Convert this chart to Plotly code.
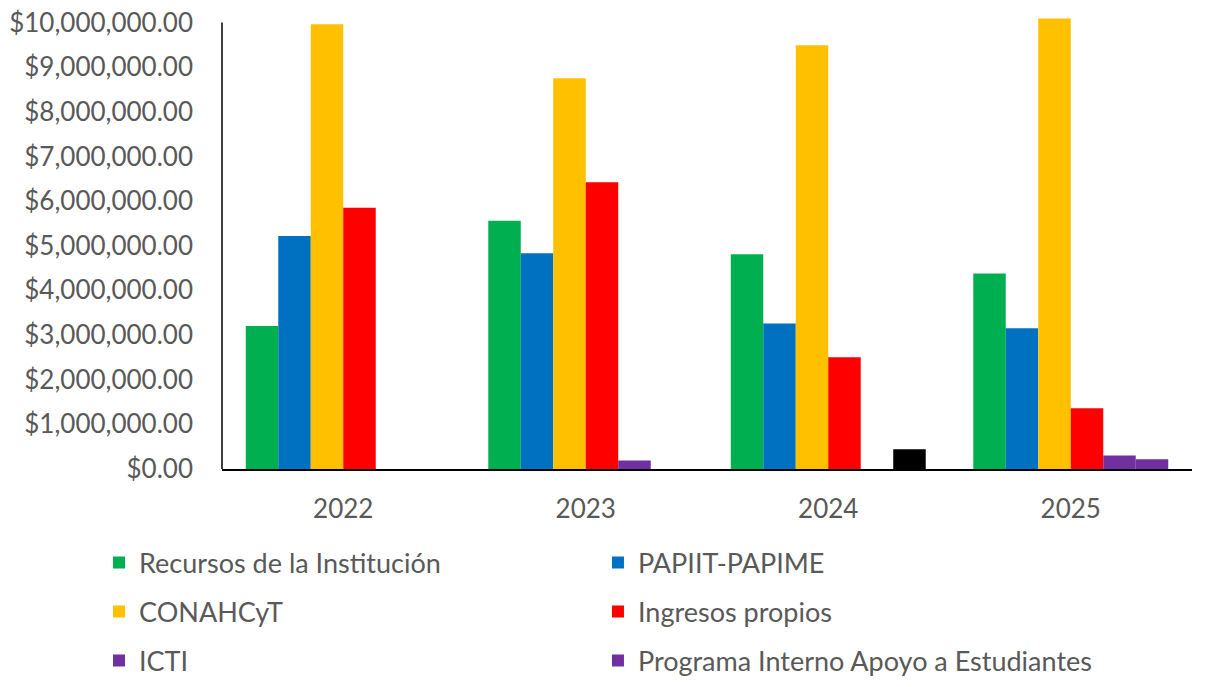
import plotly.graph_objects as go

years = ["2022", "2023", "2024", "2025"]

recursos_institucion = [3200000, 5560000, 4810000, 4380000]
papiit_papime = [5220000, 4830000, 3260000, 3150000]
conahcyt = [9960000, 8750000, 9490000, 10090000]
ingresos_propios = [5850000, 6420000, 2500000, 1360000]
icti = [0, 190000, 0, 300000]
programa_interno = [0, 0, 440000, 220000]

series = [
    ("Recursos de la Institución", recursos_institucion, "#00B050"),
    ("PAPIIT-PAPIME", papiit_papime, "#0070C0"),
    ("CONAHCyT", conahcyt, "#FFC000"),
    ("Ingresos propios", ingresos_propios, "#FF0000"),
    ("ICTI", icti, "#7030A0"),
    ("Programa Interno Apoyo a Estudiantes", programa_interno, "#7030A0"),
]

# the 2024 bar of the internal programme is highlighted in black
programa_colors = ["#7030A0", "#7030A0", "#000000", "#7030A0"]

FONT = "Lato"
GRAY = "#595959"

# legend slots: two columns, three rows
legend_x = [-0.1268, 0.3876]
legend_y = [-0.2084, -0.3171, -0.4257]

fig = go.Figure()
legend_layouts = {}
for i, (name, vals, color) in enumerate(series):
    key = "legend" if i == 0 else f"legend{i + 1}"
    colors = programa_colors if name.startswith("Programa") else color
    fig.add_trace(go.Bar(
        x=years, y=vals, name=name,
        marker=dict(color=colors, line=dict(width=0)),
        legend=key,
    ))
    legend_layouts[key] = dict(
        x=legend_x[i % 2], y=legend_y[i // 2],
        xanchor="left", yanchor="middle",
        font=dict(family=FONT, size=27, color=GRAY),
        bgcolor="rgba(0,0,0,0)", borderwidth=0,
    )

fig.update_layout(
    width=1205, height=687,
    margin=dict(l=222, r=13, t=18, b=218, autoexpand=False),
    paper_bgcolor="white", plot_bgcolor="white",
    barmode="group", bargap=0.196, bargroupgap=0,
    showlegend=True,
    font=dict(family=FONT, color=GRAY),
    xaxis=dict(
        showline=True, linecolor="black", linewidth=1.5,
        showgrid=False, ticks="",
        tickfont=dict(family=FONT, size=26, color=GRAY),
        ticklabelstandoff=16,
    ),
    yaxis=dict(
        range=[0, 10100000],
        tickvals=[i * 1000000 for i in range(11)],
        tickformat="$,.2f",
        showline=False, showgrid=False, zeroline=False, ticks="",
        tickfont=dict(family=FONT, size=26, color=GRAY),
        ticklabelstandoff=28,
    ),
    shapes=[dict(
        type="line", xref="paper", yref="y",
        x0=0, x1=0, y0=0, y1=10000000,
        line=dict(color="black", width=1.5),
    )],
    **legend_layouts,
)

fig.write_html("out.html")
